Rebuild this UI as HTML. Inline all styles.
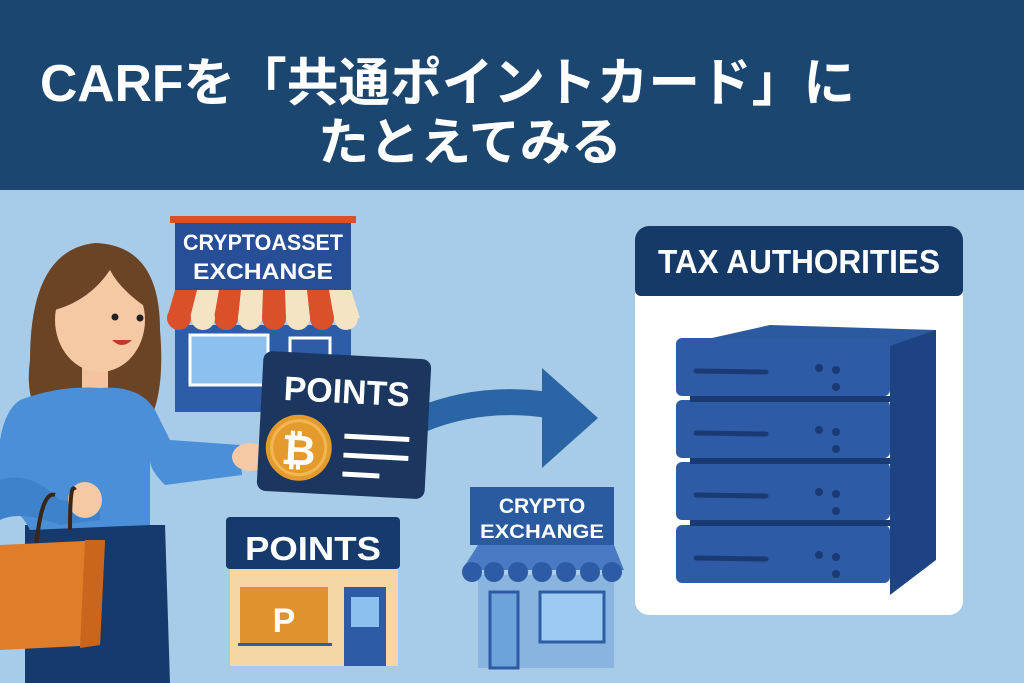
<!DOCTYPE html>
<html><head><meta charset="utf-8"><style>
html,body{margin:0;padding:0;width:1024px;height:683px;overflow:hidden;background:#a8cbe8}
svg{display:block}
text{font-family:"Liberation Sans","Noto Sans CJK JP",sans-serif;font-weight:bold}
</style></head><body>
<svg width="1024" height="683" viewBox="0 0 1024 683" xmlns="http://www.w3.org/2000/svg">
<rect x="0" y="0" width="1024" height="683" fill="#a8cbe8"/>
<rect x="0" y="0" width="1024" height="190" fill="#1b4670"/>
<text x="40" y="101" font-size="52" fill="#fff" textLength="815" lengthAdjust="spacingAndGlyphs">CARFを「共通ポイントカード」に</text>
<text x="318" y="160" font-size="51" fill="#fff" textLength="304" lengthAdjust="spacingAndGlyphs">たとえてみる</text>

<!-- Tax authorities -->
<rect x="635" y="226" width="328" height="389" rx="14" fill="#fff"/>
<path d="M649 226 H949 A14 14 0 0 1 963 240 V290 A6 6 0 0 1 957 296 H641 A6 6 0 0 1 635 290 V240 A14 14 0 0 1 649 226Z" fill="#153a68"/>
<text x="799" y="273" font-size="33" fill="#fff" text-anchor="middle" textLength="282" lengthAdjust="spacingAndGlyphs">TAX AUTHORITIES</text>
<!-- servers -->
<polygon points="676,346 770,325 936,330 936,360 676,360" fill="#2c5aa0"/>
<g>
<polygon points="890,346 936,330 936,560 890,595" fill="#1e4382"/>
<rect x="676" y="338" width="214" height="58" rx="6" fill="#2d5ba5"/>
<rect x="676" y="400" width="214" height="58" rx="6" fill="#2d5ba5"/>
<rect x="676" y="462" width="214" height="58" rx="6" fill="#2d5ba5"/>
<rect x="676" y="525" width="214" height="58" rx="6" fill="#2d5ba5"/>
<rect x="690" y="396" width="200" height="6" fill="#1a3a74"/>
<rect x="690" y="458" width="200" height="6" fill="#1a3a74"/>
<rect x="690" y="520" width="200" height="6" fill="#1a3a74"/>
<g stroke="#1a3a74" stroke-width="5" stroke-linecap="round">
<line x1="696" y1="371" x2="766" y2="372"/>
<line x1="696" y1="433" x2="766" y2="434"/>
<line x1="696" y1="495" x2="766" y2="496"/>
<line x1="696" y1="558" x2="766" y2="559"/>
</g>
<g fill="#1a3a74">
<circle cx="819" cy="368" r="4"/><circle cx="836" cy="370" r="4"/><circle cx="836" cy="387" r="4"/>
<circle cx="819" cy="430" r="4"/><circle cx="836" cy="432" r="4"/><circle cx="836" cy="449" r="4"/>
<circle cx="819" cy="492" r="4"/><circle cx="836" cy="494" r="4"/><circle cx="836" cy="511" r="4"/>
<circle cx="819" cy="555" r="4"/><circle cx="836" cy="557" r="4"/><circle cx="836" cy="574" r="4"/>
</g>
</g>

<!-- arrow -->
<path d="M420 420 Q480 395 548 405" stroke="#2a66a6" stroke-width="26" fill="none"/>
<polygon points="542,368 598,418 542,468" fill="#2a66a6"/>

<!-- crypto exchange small store -->
<rect x="478" y="575" width="136" height="93" fill="#8ab4e0"/>
<rect x="490" y="592" width="28" height="76" fill="#6ea2da" stroke="#2d5ba5" stroke-width="3"/>
<rect x="540" y="592" width="64" height="50" fill="#9ccaf0" stroke="#2d5ba5" stroke-width="3"/>
<rect x="470" y="487" width="144" height="58" fill="#2a5aa0"/>
<text x="542" y="513" font-size="21" fill="#fff" text-anchor="middle">CRYPTO</text>
<text x="542" y="538" font-size="19" fill="#fff" text-anchor="middle" textLength="124" lengthAdjust="spacingAndGlyphs">EXCHANGE</text>
<polygon points="478,545 614,545 624,570 462,570" fill="#4a7ac4"/>
<g fill="#2d5ba5"><circle cx="472" cy="572" r="10"/><circle cx="494" cy="572" r="10"/><circle cx="518" cy="572" r="10"/><circle cx="542" cy="572" r="10"/><circle cx="566" cy="572" r="10"/><circle cx="590" cy="572" r="10"/><circle cx="612" cy="572" r="10"/></g>

<!-- cryptoasset exchange store -->
<rect x="175" y="325" width="176" height="87" fill="#2d5ca8"/>
<rect x="190" y="335" width="78" height="50" fill="#8cc0ee" stroke="#fff" stroke-width="3"/>
<rect x="290" y="338" width="40" height="40" fill="#2d5ca8" stroke="#fff" stroke-width="3"/>
<rect x="170" y="216" width="186" height="7" fill="#d9502a"/>
<rect x="175" y="223" width="176" height="67" fill="#264f97"/>
<text x="263" y="250" font-size="22" fill="#fff" text-anchor="middle" textLength="160" lengthAdjust="spacingAndGlyphs">CRYPTOASSET</text>
<text x="263" y="279" font-size="22" fill="#fff" text-anchor="middle" textLength="140" lengthAdjust="spacingAndGlyphs">EXCHANGE</text>
<g>
<polygon points="175,290 351,290 360,318 167,318" fill="#f4e4c4"/>
<polygon points="175,290 197,290 190,318 167,318" fill="#d9502a"/>
<polygon points="219,290 241,290 238,318 214,318" fill="#d9502a"/>
<polygon points="263,290 285,290 286,318 262,318" fill="#d9502a"/>
<polygon points="307,290 329,290 334,318 310,318" fill="#d9502a"/>
<g fill="#d9502a"><circle cx="179" cy="318" r="12"/><circle cx="226" cy="318" r="12"/><circle cx="274" cy="318" r="12"/><circle cx="322" cy="318" r="12"/></g>
<g fill="#f4e4c4"><circle cx="203" cy="318" r="12"/><circle cx="250" cy="318" r="12"/><circle cx="298" cy="318" r="12"/><circle cx="346" cy="318" r="12"/></g>
</g>

<!-- points store -->
<rect x="230" y="568" width="168" height="98" fill="#f5d7a6"/>
<rect x="240" y="587" width="88" height="56" fill="#e0922f"/>
<rect x="238" y="643" width="94" height="3" fill="#2d5ba5"/>
<text x="284" y="632" font-size="34" fill="#fff" text-anchor="middle">P</text>
<rect x="344" y="587" width="42" height="79" fill="#2d5ba5"/>
<rect x="351" y="597" width="28" height="30" fill="#8cc0ee"/>
<rect x="226" y="517" width="174" height="52" rx="4" fill="#163a6b"/>
<text x="313" y="560" font-size="33" fill="#fff" text-anchor="middle" textLength="136" lengthAdjust="spacingAndGlyphs">POINTS</text>

<!-- woman -->
<path d="M30 360 Q30 250 95 243 Q160 245 160 330 Q165 390 150 420 L40 420 Q25 395 30 360Z" fill="#6b4325"/>
<rect x="82" y="360" width="26" height="35" fill="#f4c4a0"/>
<ellipse cx="100" cy="320" rx="45" ry="52" fill="#f6c9a5"/>
<path d="M55 310 Q70 255 110 258 Q140 270 150 310 Q120 290 110 270 Q90 300 55 310Z" fill="#6b4325"/>
<circle cx="115" cy="317" r="3.5" fill="#222"/><circle cx="140" cy="318" r="3.5" fill="#222"/>
<path d="M112 340 Q122 350 132 340" fill="#c0392b"/>
<path d="M25 525 L165 525 L170 683 L25 683Z" fill="#163a6b"/>
<path d="M20 400 Q60 385 100 388 Q140 385 155 410 L170 440 L240 445 L242 475 L165 485 Q150 470 150 460 L150 525 L30 530 Q15 500 0 520 L0 440 Q5 410 20 400Z" fill="#4a8fd8"/>
<path d="M0 480 Q30 470 60 500 L100 505 L100 520 L60 525 Q20 510 0 520Z" fill="#3f82cc"/>
<ellipse cx="250" cy="457" rx="18" ry="14" fill="#f6c9a5"/>
<ellipse cx="85" cy="500" rx="17" ry="18" fill="#f6c9a5"/>
<path d="M35 560 Q40 490 55 495 M70 530 Q70 480 75 490" stroke="#3a2516" stroke-width="4" fill="none"/>
<polygon points="0,545 105,540 100,645 0,650" fill="#e07d2a"/>
<polygon points="85,540 105,540 100,645 80,648" fill="#c9651c"/>

<!-- points card -->
<g transform="rotate(3 343 425)">
<rect x="260" y="355" width="168" height="140" rx="9" fill="#1b365f"/>
<text x="345" y="403" font-size="34" fill="#fff" text-anchor="middle" textLength="126" lengthAdjust="spacingAndGlyphs">POINTS</text>
<circle cx="300" cy="450" r="33" fill="#e59a2c"/>
<circle cx="300" cy="450" r="27" fill="none" stroke="#f2b653" stroke-width="3"/>
<text x="300" y="467" font-size="42" fill="#fff" text-anchor="middle">₿</text>
<g stroke="#fff" stroke-width="5"><line x1="345" y1="436" x2="410" y2="436"/><line x1="345" y1="455" x2="410" y2="455"/><line x1="345" y1="474" x2="382" y2="474"/></g>
</g>
</svg>
</body></html>
